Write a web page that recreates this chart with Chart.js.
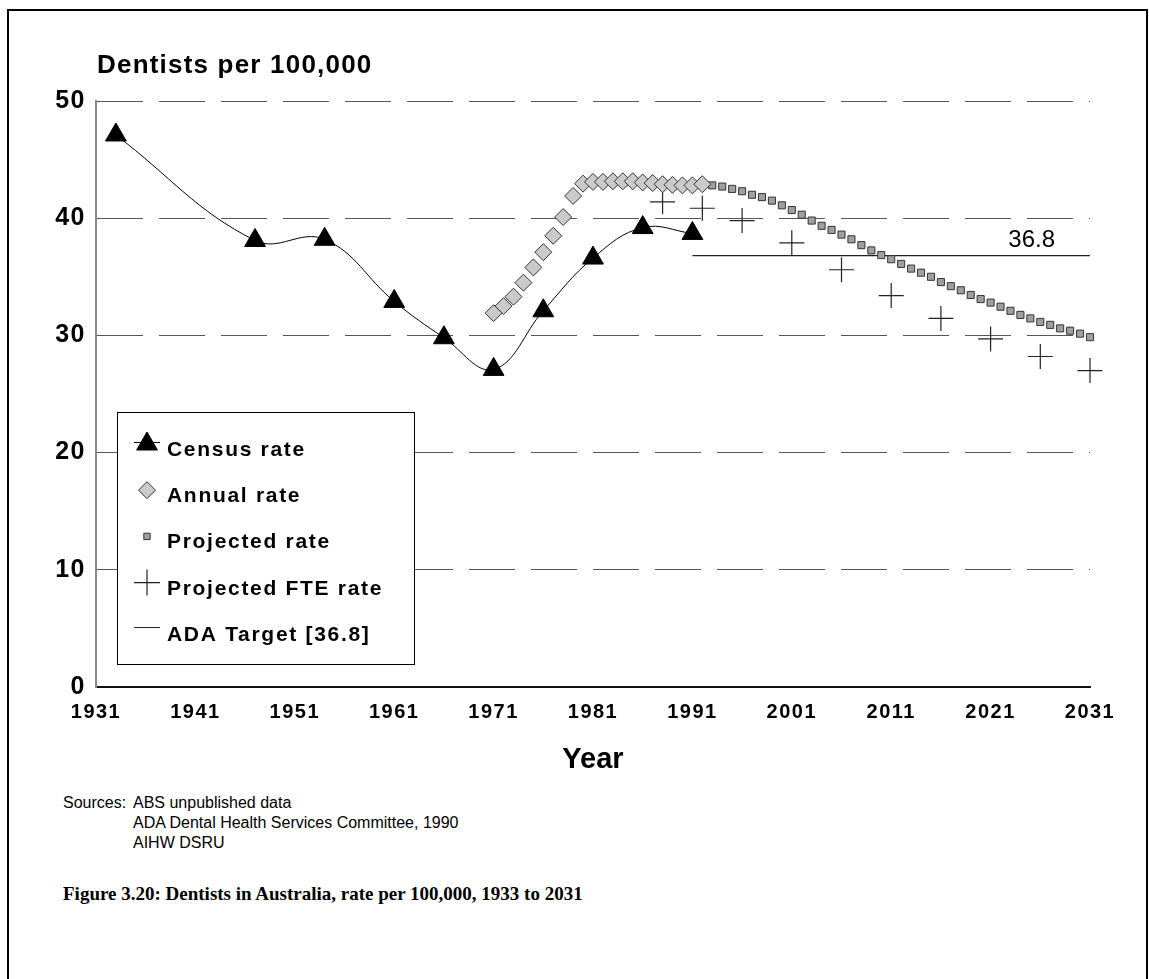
<!DOCTYPE html>
<html>
<head>
<meta charset="utf-8">
<script src="https://cdn.jsdelivr.net/npm/chart.js@4.4.0/dist/chart.umd.min.js"></script>
<style>
  body { margin: 0; background: #fff; width: 1149px; height: 979px; overflow: hidden; position: relative;
         font-family: 'Liberation Sans', Arial, sans-serif; }
  #frame { position: absolute; left: 7px; top: 9px; width: 1141px; height: 1100px;
           border: 2px solid #000; box-sizing: border-box; }
  #chart { position: absolute; left: 0; top: 0; }
  .src { position: absolute; font-size: 16px; line-height: 20px; color: #000; }
  #caption { position: absolute; left: 63px; top: 883px; font-family: 'Liberation Serif', 'Times New Roman', serif;
             font-weight: bold; font-size: 19px; color: #000; }
</style>
</head>
<body>
<div id="frame"></div>
<canvas id="chart" width="1149" height="790"></canvas>
<div class="src" style="left:63px;top:793px">Sources:</div>
<div class="src" style="left:133px;top:793px">ABS unpublished data<br>ADA Dental Health Services Committee, 1990<br>AIHW DSRU</div>
<div id="caption">Figure 3.20: Dentists in Australia, rate per 100,000, 1933 to 2031</div>

<script>
// ===== Data =====
const Y_TITLE = "Dentists per 100,000";
const X_TITLE = "Year";
const xTickYears = [1931, 1941, 1951, 1961, 1971, 1981, 1991, 2001, 2011, 2021, 2031];

const censusYears = [1933, 1947, 1954, 1961, 1966, 1971, 1976, 1981, 1986, 1991];
const censusRate  = [47.1, 38.1, 38.2, 32.9, 29.8, 27.1, 32.1, 36.6, 39.2, 38.7];

const annualYears = [1971, 1972, 1973, 1974, 1975, 1976, 1977, 1978, 1979, 1980, 1981,
                     1982, 1983, 1984, 1985, 1986, 1987, 1988, 1989, 1990, 1991, 1992];
const annualRate  = [31.9, 32.5, 33.3, 34.5, 35.8, 37.1, 38.5, 40.1, 41.9, 42.95, 43.1,
                     43.1, 43.15, 43.15, 43.15, 43.05, 43.0, 42.9, 42.85, 42.8, 42.8, 42.9];

const projYears = [1993, 1994, 1995, 1996, 1997, 1998, 1999, 2000, 2001, 2002, 2003, 2004, 2005,
                   2006, 2007, 2008, 2009, 2010, 2011, 2012, 2013, 2014, 2015, 2016, 2017, 2018,
                   2019, 2020, 2021, 2022, 2023, 2024, 2025, 2026, 2027, 2028, 2029, 2030, 2031];
const projRate  = [42.8, 42.7, 42.5, 42.3, 42.0, 41.8, 41.5, 41.1, 40.7, 40.3, 39.8, 39.35, 39.0,
                   38.6, 38.2, 37.7, 37.25, 36.85, 36.5, 36.1, 35.7, 35.35, 35.0, 34.55, 34.2, 33.85,
                   33.45, 33.1, 32.8, 32.45, 32.1, 31.75, 31.45, 31.15, 30.9, 30.6, 30.4, 30.15, 29.85];

const fteYears = [1988, 1992, 1996, 2001, 2006, 2011, 2016, 2021, 2026, 2031];
const fteRate  = [41.4, 40.85, 39.8, 37.9, 35.6, 33.4, 31.45, 29.7, 28.2, 27.0];

const targetYears = [1991, 2031];
const targetRate  = [36.8, 36.8];
const TARGET_LABEL = "36.8";

const FONT = "'Liberation Sans', Arial, Helvetica, sans-serif";

const toPoints = (xs, ys) => xs.map((x, i) => ({ x, y: ys[i] }));

// ===== Plugin: titles, target label, boxed legend =====
const overlayPlugin = {
  id: 'overlay',
  beforeDraw(chart) {
    chart.ctx.letterSpacing = '1.5px';   // tick labels are a bit spaced out in the original
  },
  afterDraw(chart) {
    const { ctx, scales } = chart;
    ctx.save();
    ctx.fillStyle = '#000';
    ctx.textAlign = 'left';
    ctx.textBaseline = 'alphabetic';

    // y title (horizontal, top left)
    ctx.letterSpacing = '1.2px';
    ctx.font = `bold 26px ${FONT}`;
    ctx.fillText(Y_TITLE, 97, 73);

    // x title
    ctx.letterSpacing = '0px';
    ctx.font = `bold 29px ${FONT}`;
    ctx.textAlign = 'center';
    ctx.fillText(X_TITLE, (chart.chartArea.left + chart.chartArea.right) / 2, 768);

    // target value label
    ctx.font = `24px ${FONT}`;
    ctx.textAlign = 'right';
    ctx.fillText(TARGET_LABEL, 1055, scales.y.getPixelForValue(targetRate[0]) - 9);

    // legend box
    const bx = 117, by = 412, bw = 297, bh = 252;
    ctx.fillStyle = '#fff';
    ctx.fillRect(bx, by, bw, bh);
    ctx.strokeStyle = '#000';
    ctx.lineWidth = 1;
    ctx.strokeRect(bx + 0.5, by + 0.5, bw, bh);

    const sx = 147;
    chart.data.datasets.forEach((ds, i) => {
      const rowY = 448 + i * 46.2;
      ctx.save();
      if (ds.showLine) {
        ctx.strokeStyle = ds.borderColor;
        ctx.lineWidth = 1;
        ctx.beginPath();
        ctx.moveTo(sx - 13, Math.round(rowY - 6) + 0.5);
        ctx.lineTo(sx + 13, Math.round(rowY - 6) + 0.5);
        ctx.stroke();
      }
      if (ds.pointRadius > 0) {
        ctx.fillStyle = ds.pointBackgroundColor;
        ctx.strokeStyle = ds.pointBorderColor;
        ctx.lineWidth = ds.pointBorderWidth;
        Chart.helpers.drawPoint(ctx, {
          pointStyle: ds.pointStyle,
          radius: ds.legendRadius,
          rotation: 0,
          borderWidth: ds.pointBorderWidth
        }, sx, rowY - 4);
      }
      ctx.restore();
      ctx.fillStyle = '#000';
      ctx.textAlign = 'left';
      ctx.letterSpacing = '1.7px';
      ctx.font = `bold 21px ${FONT}`;
      ctx.fillText(ds.label, 167, rowY + 8);
    });

    ctx.restore();
  }
};

new Chart(document.getElementById('chart'), {
  type: 'scatter',
  data: {
    datasets: [
      {
        label: 'Census rate',
        data: toPoints(censusYears, censusRate),
        showLine: true,
        tension: 0.4,
        borderColor: '#000',
        borderWidth: 1,
        pointStyle: 'triangle',
        pointRadius: 12,
        legendRadius: 12,
        pointBackgroundColor: '#000',
        pointBorderColor: '#000',
        pointBorderWidth: 1,
        order: 3
      },
      {
        label: 'Annual rate',
        data: toPoints(annualYears, annualRate),
        showLine: false,
        pointStyle: 'rectRot',
        pointRadius: 8.5,
        legendRadius: 8.5,
        pointBackgroundColor: '#cacaca',
        pointBorderColor: '#333',
        pointBorderWidth: 1,
        order: 1
      },
      {
        label: 'Projected rate',
        data: toPoints(projYears, projRate),
        showLine: false,
        pointStyle: 'rect',
        pointRadius: 5,
        legendRadius: 4.5,
        pointBackgroundColor: '#a0a0a0',
        pointBorderColor: '#333',
        pointBorderWidth: 1,
        order: 2
      },
      {
        label: 'Projected FTE rate',
        data: toPoints(fteYears, fteRate),
        showLine: false,
        pointStyle: 'cross',
        pointRadius: 12.5,
        legendRadius: 13,
        pointBackgroundColor: '#222',
        pointBorderColor: '#222',
        pointBorderWidth: 1.2,
        order: 4
      },
      {
        label: 'ADA Target [36.8]',
        data: toPoints(targetYears, targetRate),
        showLine: true,
        tension: 0,
        borderColor: '#222',
        borderWidth: 1.3,
        pointRadius: 0,
        legendRadius: 0,
        order: 5
      }
    ]
  },
  options: {
    responsive: false,
    animation: false,
    devicePixelRatio: 1,
    layout: { padding: { left: 0, right: 59, top: 101, bottom: 0 } },
    plugins: {
      legend: { display: false },
      tooltip: { enabled: false }
    },
    elements: { point: { hoverRadius: 0 } },
    datasets: { scatter: { clip: false } },
    scales: {
      x: {
        type: 'linear',
        min: 1931,
        max: 2031,
        afterFit(scale) { scale.height = 103; },
        afterBuildTicks(scale) { scale.ticks = xTickYears.map(v => ({ value: v })); },
        grid: { display: false, drawTicks: false },
        border: { display: true, color: '#111', width: 2 },
        ticks: {
          autoSkip: false,
          maxRotation: 0,
          padding: 13,
          color: '#000',
          font: { family: FONT, size: 20, weight: 'bold' },
          callback: v => String(v)
        }
      },
      y: {
        min: 0,
        max: 50,
        afterFit(scale) { scale.width = 96; },
        grid: {
          drawTicks: false,
          color: c => (c.tick && c.tick.value === 0 ? 'rgba(0,0,0,0)' : '#555'),
          lineWidth: 1
        },
        border: { display: true, color: '#888', width: 2, dash: [46, 16] },
        ticks: {
          stepSize: 10,
          padding: 10,
          color: '#000',
          font: { family: FONT, size: 25, weight: 'bold' }
        }
      }
    }
  },
  plugins: [overlayPlugin]
});
</script>
</body>
</html>
